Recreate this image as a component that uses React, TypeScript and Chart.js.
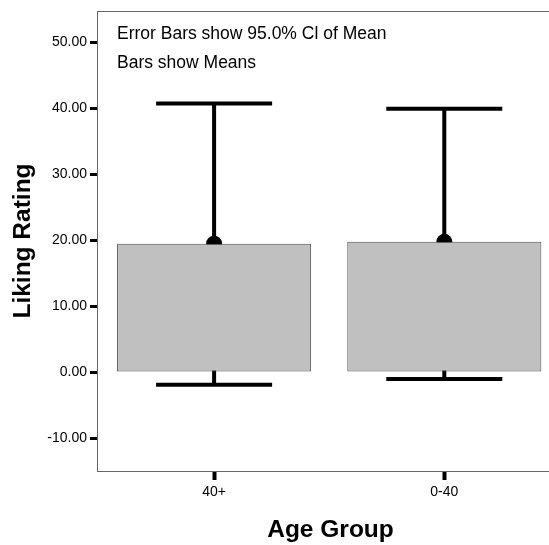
import React, { useEffect, useRef } from "react";
import { Chart, registerables } from "chart.js";

Chart.register(...registerables);

const categories = ["40+", "0-40"];
const means = [19.45, 19.73];
const ciLower = [-1.95, -1.05];
const ciUpper = [40.7, 39.9];
const yTicks = [-10, 0, 10, 20, 30, 40, 50];
const notes = ["Error Bars show 95.0% Cl of Mean", "Bars show Means"];

const FONT = 'Arial, "Liberation Sans", Helvetica, sans-serif';

const errorBarPlugin = {
  id: "errorBars",
  beforeDatasetsDraw(chart: any) {
    const { ctx, scales } = chart;
    const xs = scales.x;
    const ys = scales.y;
    ctx.save();
    ctx.strokeStyle = "#000";
    ctx.lineWidth = 4;
    ctx.lineCap = "butt";
    categories.forEach((_, i) => {
      const x = xs.getPixelForValue(i + 1);
      const xl = xs.getPixelForValue(i + 1 - 0.252);
      const xr = xs.getPixelForValue(i + 1 + 0.252);
      const yt = ys.getPixelForValue(ciUpper[i]);
      const yb = ys.getPixelForValue(ciLower[i]);
      ctx.beginPath();
      ctx.moveTo(x, yt);
      ctx.lineTo(x, yb);
      ctx.moveTo(xl, yt);
      ctx.lineTo(xr, yt);
      ctx.moveTo(xl, yb);
      ctx.lineTo(xr, yb);
      ctx.stroke();
    });
    ctx.restore();
  },
  afterDraw(chart: any) {
    const { ctx, chartArea } = chart;
    ctx.save();
    ctx.strokeStyle = "#666";
    ctx.lineWidth = 1;
    ctx.beginPath();
    ctx.moveTo(chartArea.left, chartArea.top + 0.5);
    ctx.lineTo(chartArea.right, chartArea.top + 0.5);
    ctx.stroke();
    ctx.fillStyle = "#000";
    ctx.font = `17.5px ${FONT}`;
    ctx.textBaseline = "alphabetic";
    ctx.textAlign = "left";
    notes.forEach((t, i) => {
      ctx.fillText(t, chartArea.left + 20, chartArea.top + 27.5 + i * 29);
    });
    ctx.restore();
  },
};

export default function App() {
  const ref = useRef<HTMLCanvasElement>(null);
  useEffect(() => {
    if (!ref.current) return;
    Chart.defaults.font.family = FONT;
    const chart = new Chart(ref.current, {
      data: {
        datasets: [
          {
            type: "bar",
            data: means.map((m, i) => ({ x: i + 1, y: m })),
            backgroundColor: "#c0c0c0",
            borderColor: "#505050",
            borderWidth: 1,
            borderSkipped: false,
            barPercentage: 0.843,
            categoryPercentage: 1,
            order: 1,
          } as any,
          {
            type: "scatter",
            data: means.map((m, i) => ({ x: i + 1, y: m })),
            pointRadius: 8,
            pointBackgroundColor: "#000",
            pointBorderWidth: 0,
            order: 2,
          } as any,
        ],
      },
      options: {
        responsive: false,
        animation: false,
        layout: { padding: { top: 11, left: 0, right: 0, bottom: 0 } },
        plugins: { legend: { display: false }, tooltip: { enabled: false } },
        scales: {
          x: {
            type: "linear",
            min: 0.4913,
            max: 2.52,
            offset: false,
            afterBuildTicks: (s: any) => {
              s.ticks = categories.map((_, i) => ({ value: i + 1 }));
            },
            afterFit: (s: any) => {
              s.height = 74;
              s.paddingLeft = 0;
              s.paddingRight = 0;
            },
            ticks: {
              callback: (v: any) => categories[Number(v) - 1] ?? "",
              color: "#000",
              font: { size: 14 },
              padding: 4,
              maxRotation: 0,
              autoSkip: false,
            },
            grid: {
              display: true,
              offset: false,
              drawOnChartArea: false,
              drawTicks: true,
              tickLength: 9,
              tickWidth: 4,
              tickColor: "#000",
            },
            border: { display: true, color: "#666", width: 1 },
            title: {
              display: true,
              text: "Age Group",
              color: "#000",
              font: { size: 24.5, weight: "bold" },
              padding: { top: 0, bottom: 0 },
            },
          },
          y: {
            type: "linear",
            min: -15,
            max: 54.7,
            afterBuildTicks: (s: any) => {
              s.ticks = yTicks.map((v) => ({ value: v }));
            },
            afterFit: (s: any) => {
              s.width = 97;
              s.paddingTop = 0;
              s.paddingBottom = 0;
            },
            ticks: {
              callback: (v: any) => Number(v).toFixed(2),
              color: "#000",
              font: { size: 14 },
              padding: 3,
            },
            grid: {
              display: true,
              drawOnChartArea: false,
              drawTicks: true,
              tickLength: 7,
              tickWidth: 3,
              tickColor: "#000",
            },
            border: { display: true, color: "#666", width: 1 },
            title: {
              display: true,
              text: "Liking Rating",
              color: "#000",
              font: { size: 24.5, weight: "bold" },
              padding: { top: 9, bottom: 0 },
            },
          },
        },
      },
      plugins: [errorBarPlugin],
    });
    return () => chart.destroy();
  }, []);
  return (
    <div
      style={{
        position: "absolute",
        left: 0,
        top: 0,
        width: 549,
        height: 545,
        overflow: "hidden",
        background: "#fff",
      }}
    >
      <div style={{ position: "relative", width: 572, height: 545 }}>
        <canvas
          ref={ref}
          width={572}
          height={545}
          style={{ display: "block", width: 572, height: 545 }}
        />
      </div>
    </div>
  );
}
